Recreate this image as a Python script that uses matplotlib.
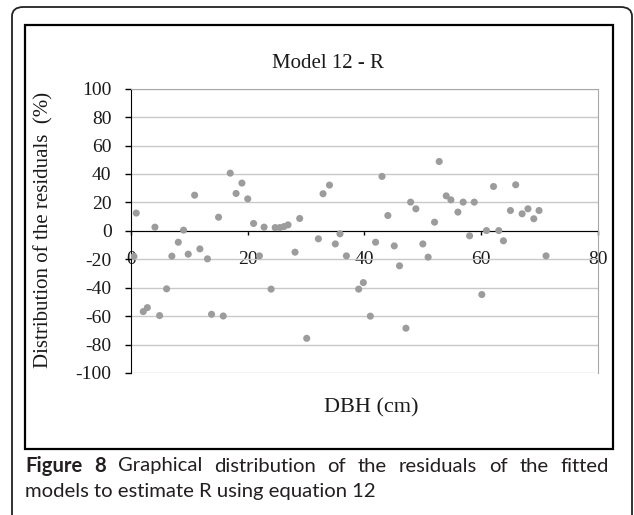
import matplotlib
matplotlib.use("Agg")
import matplotlib.pyplot as plt
from matplotlib.patches import FancyBboxPatch, Rectangle

W, H = 634, 515

dbh = [0.9, 0.5, 2.1, 2.8, 4.1, 4.9, 6.1, 7.0, 8.1, 9.0, 9.8, 10.9, 11.8, 13.1,
       13.8, 15.0, 15.8, 17.0, 18.0, 19.0, 20.0, 21.0, 22.0, 22.8, 24.0, 24.7,
       25.5, 26.2, 26.9, 28.1, 28.9, 30.1, 32.1, 32.9, 34.0, 35.0, 35.8, 36.9,
       39.0, 39.8, 41.0, 41.9, 43.0, 44.0, 45.1, 46.0, 47.1, 47.9, 48.8, 50.0,
       50.9, 52.0, 52.8, 54.0, 54.8, 56.0, 56.9, 58.0, 58.8, 60.1, 60.9, 62.1,
       63.0, 63.8, 65.0, 65.9, 67.0, 68.0, 69.0, 69.9, 71.1]
residual = [12.5, -18, -56.8, -54, 2.6, -59.6, -40.8, -17.8, -8, 0.5, -16.4, 25.1,
            -12.7, -19.7, -58.7, 9.6, -59.9, 40.6, 26.3, 33.6, 22.5, 5.2, -17.6,
            2.6, -41, 2.3, 2.3, 3.0, 4.2, -15, 8.7, -75.6, -5.6, 26.1, 32.2, -9.2,
            -2.1, -17.6, -41, -36.4, -60, -8, 38.3, 10.8, -10.6, -24.6, -68.5,
            20.2, 15.5, -9.2, -18.5, 6.1, 48.8, 24.6, 21.8, 13.2, 20.2, -3.5, 20.2,
            -44.8, 0.2, 31.2, 0.2, -7, 14.3, 32.4, 12, 15.5, 8.5, 14.3, -17.6]

x_ticks = [0, 20, 40, 60, 80]
y_ticks = list(range(-100, 101, 20))

title = "Model 12 - R"
x_label = "DBH (cm)"
y_label = "Distribution of the residuals  (%)"
cap_bold = "Figure 8"
cap_line1 = "Graphical distribution of the residuals of the fitted"
cap_line2 = "models to estimate R using equation 12"

plt.rcParams["axes.unicode_minus"] = False


def fx(px):
    return px / W


def fy(py):
    return 1 - py / H


fig = plt.figure(figsize=(W / 100, H / 100), dpi=100)
fig.patch.set_facecolor("white")

# outer rounded frame and inner chart box
fig.patches.append(FancyBboxPatch((fx(12), fy(540)), fx(620), 533 / H,
                                  boxstyle="round,pad=0,rounding_size=0.018",
                                  transform=fig.transFigure, fill=False,
                                  edgecolor="#222222", linewidth=1.3))
fig.patches.append(Rectangle((fx(25), fy(449)), fx(588), 424 / H,
                             transform=fig.transFigure, fill=False,
                             edgecolor="black", linewidth=1.6))

ax = fig.add_axes([fx(131), fy(373), fx(467), (373 - 88.7) / H])
ax.scatter(dbh, residual, s=26, color="#9c9c9c", edgecolors="none", zorder=3)

ax.set_xlim(0, 80)
ax.set_ylim(-100, 100)
ax.set_xticks(x_ticks)
ax.set_yticks(y_ticks)
ax.grid(axis="y", color="#c8c8c8", linewidth=1.0)
ax.set_axisbelow(True)

serif = "Liberation Serif"
for spine in ["top", "right"]:
    ax.spines[spine].set_color("#a8a8a8")
ax.spines["left"].set_color("black")
ax.spines["bottom"].set_position(("data", 0))
ax.spines["bottom"].set_color("black")
ax.spines["bottom"].set_zorder(2)
ax.tick_params(axis="y", direction="out", length=4, width=1, pad=10,
               labelsize=14, labelcolor="#1a1a1a")
ax.tick_params(axis="x", direction="out", length=3, width=1, pad=11.5,
               labelsize=14, labelcolor="#1a1a1a")
for lab in ax.get_xticklabels() + ax.get_yticklabels():
    lab.set_fontfamily(serif)

fig.text(fx(328), fy(63), title, ha="center", va="center",
         fontsize=15, family=serif, color="#1a1a1a")
fig.text(fx(371), fy(408), x_label, ha="center", va="center",
         fontsize=16, family=serif, color="#1a1a1a")
fig.text(fx(44), fy(230), y_label, ha="center", va="center", rotation=90,
         fontsize=15, family=serif, color="#1a1a1a")

# caption, first line justified across the box width
cap_font = dict(fontsize=14.6, family="Lato", color="#231f20")
renderer = fig.canvas.get_renderer()
words = [(w, "bold") for w in cap_bold.split()] + \
        [(w, "normal") for w in cap_line1.split()]
texts = [fig.text(0, fy(466), w, va="center", fontweight=wt, **cap_font)
         for w, wt in words]
widths = [t.get_window_extent(renderer).width for t in texts]
left, right = 25, 609
gap = (right - left - sum(widths)) / (len(texts) - 1)
pos = left
for t, w in zip(texts, widths):
    t.set_x(fx(pos))
    pos += w + gap
fig.text(fx(left), fy(491), cap_line2, va="center", **cap_font)

fig.savefig("out.png", dpi=100)
